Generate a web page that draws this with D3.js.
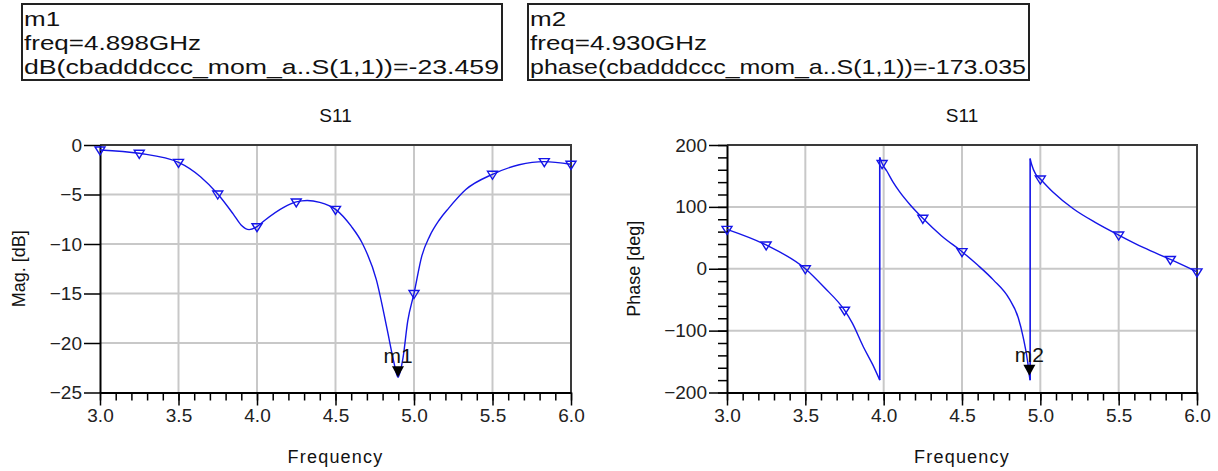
<!DOCTYPE html>
<html>
<head>
<meta charset="utf-8">
<script src="https://cdn.jsdelivr.net/npm/d3@7"></script>
<style>
  body { margin: 0; background: #fff; }
  svg { font-family: "Liberation Sans", Arial, sans-serif; }
</style>
</head>
<body>
<svg id="chart" width="1218" height="471"></svg>
<script>
// x axis ticks (GHz)
const freqTicks = [3.0, 3.5, 4.0, 4.5, 5.0, 5.5, 6.0];
const magTicks = [0, -5, -10, -15, -20, -25];
const phaseTicks = [200, 100, 0, -100, -200];

// dB(S11) trace
const magFreq = [3.0, 3.25, 3.5, 3.64, 3.75, 3.85, 3.9, 3.95, 4.0, 4.05, 4.17, 4.25, 4.32, 4.4, 4.5, 4.6, 4.67, 4.76, 4.83, 4.87, 4.898, 4.93, 4.96, 5.0, 5.05, 5.1, 5.16, 5.22, 5.33, 5.5, 5.67, 5.83, 6.0];
const magDb   = [-0.5, -0.84, -1.75, -3.2, -4.95, -7.0, -8.1, -8.55, -8.25, -7.6, -6.3, -5.75, -5.6, -5.8, -6.5, -8.2, -9.9, -13.6, -18.7, -21.8, -23.459, -21.5, -17.8, -15.0, -11.2, -9.2, -7.6, -6.4, -4.5, -2.96, -2.0, -1.68, -1.95];
const magSymFreq = [3.0, 3.25, 3.5, 3.75, 4.0, 4.25, 4.5, 5.0, 5.5, 5.83, 6.0];
const magSymDb   = [-0.5, -0.84, -1.75, -4.95, -8.25, -5.75, -6.5, -15.0, -2.96, -1.68, -1.95];

// phase(S11) trace, wraps at +/-180
const phaseFreq = [3.0, 3.25, 3.5, 3.62, 3.75, 3.8, 3.87, 3.93, 3.975, 3.975, 3.99, 4.02, 4.06, 4.1, 4.17, 4.25, 4.37, 4.5, 4.6, 4.7, 4.8, 4.86, 4.89, 4.92, 4.93, 4.935, 4.935, 4.945, 4.97, 5.0, 5.08, 5.21, 5.35, 5.5, 5.66, 5.83, 6.0];
const phaseDeg  = [63.7, 38.4, 0, -30, -67, -88, -126, -155, -180, 180, 170, 158, 140, 125, 103, 81.5, 53, 27.6, 6, -18, -48, -80, -110, -152, -173, -180, 178, 168, 153, 145, 124, 97, 75, 54.5, 34, 15, -5];
const phaseSymFreq = [3.0, 3.25, 3.5, 3.75, 3.99, 4.25, 4.5, 5.0, 5.5, 5.83, 6.0];
const phaseSymDeg  = [63.7, 38.4, 0, -67, 170, 81.5, 27.6, 145, 54.5, 15, -5];

// marker readouts
const markers = [
  { name: "m1", freq: 4.898, value: -23.459, label: "dB(cbadddccc_mom_a..S(1,1))=-23.459" },
  { name: "m2", freq: 4.930, value: -173.035, label: "phase(cbadddccc_mom_a..S(1,1))=-173.035" }
];

const svg = d3.select("#chart");
const traceColor = "#1515e8";
const gridColor = "#c8c8c8";
const plotTop = 145, plotBottom = 392.5;

function drawPlot(opt) {
  const x = d3.scaleLinear().domain([3, 6]).range([opt.left, opt.right]);
  const y = d3.scaleLinear().domain(opt.yDomain).range([plotBottom, plotTop]);
  const g = svg.append("g");

  // grid
  g.selectAll(".gx").data(freqTicks.slice(1, -1)).join("line")
    .attr("x1", d => x(d)).attr("x2", d => x(d))
    .attr("y1", plotTop).attr("y2", plotBottom)
    .attr("stroke", gridColor).attr("stroke-width", 2);
  g.selectAll(".gy").data(opt.yTicks.slice(1, -1)).join("line")
    .attr("x1", opt.left).attr("x2", opt.right)
    .attr("y1", d => y(d)).attr("y2", d => y(d))
    .attr("stroke", gridColor).attr("stroke-width", 2);

  // top / right frame
  g.append("path")
    .attr("d", `M${opt.left},${plotTop}H${opt.right}V${plotBottom}`)
    .attr("fill", "none").attr("stroke", "#3a3a3a").attr("stroke-width", 2);

  // x axis: minor then major
  const minor = d3.range(30, 61).map(d => d / 10);
  g.append("g").attr("transform", `translate(0,${plotBottom})`)
    .call(d3.axisBottom(x).tickValues(minor).tickSize(8).tickFormat(""))
    .call(a => a.select(".domain").remove())
    .selectAll("line").attr("stroke", "#000").attr("stroke-width", 1.5);
  const xa = g.append("g").attr("transform", `translate(0,${plotBottom})`)
    .call(d3.axisBottom(x).tickValues(freqTicks).tickSize(13).tickSizeOuter(0).tickPadding(3).tickFormat(d3.format(".1f")));
  xa.select(".domain").attr("stroke", "#000").attr("stroke-width", 2);
  xa.selectAll("line").attr("stroke", "#000").attr("stroke-width", 1.5);
  xa.selectAll("text").attr("font-size", 19).attr("font-family", "Liberation Sans, Arial").attr("fill", "#222");

  // y axis
  if (opt.yMinor) {
    g.append("g").attr("transform", `translate(${opt.left},0)`)
      .call(d3.axisLeft(y).tickValues(opt.yMinor).tickSize(9).tickFormat(""))
      .call(a => a.select(".domain").remove())
      .selectAll("line").attr("stroke", "#000").attr("stroke-width", 1.5);
  }
  const ya = g.append("g").attr("transform", `translate(${opt.left},0)`)
    .call(d3.axisLeft(y).tickValues(opt.yTicks).tickSize(opt.yTickLen).tickSizeOuter(0).tickPadding(2));
  ya.select(".domain").attr("stroke", "#000").attr("stroke-width", 2);
  ya.selectAll("line").attr("stroke", "#000").attr("stroke-width", 1.5);
  ya.selectAll("text").attr("font-size", 19).attr("font-family", "Liberation Sans, Arial").attr("fill", "#222");

  // trace, split into segments at phase wraps
  const pts = opt.xs.map((f, i) => [f, opt.ys[i]]);
  const segs = [[pts[0]]];
  for (let i = 1; i < pts.length; i++) {
    if (Math.abs(pts[i][1] - pts[i - 1][1]) > 180) segs.push([]);
    segs[segs.length - 1].push(pts[i]);
  }
  const smooth = d3.line().x(d => x(d[0])).y(d => y(d[1])).curve(d3.curveMonotoneX);
  const straight = d3.line().x(d => x(d[0])).y(d => y(d[1]));
  segs.forEach((s, i) => {
    g.append("path").attr("d", smooth(s))
      .attr("fill", "none").attr("stroke", traceColor).attr("stroke-width", 1.4);
    if (i > 0) {
      const prev = segs[i - 1];
      g.append("path").attr("d", straight([prev[prev.length - 1], s[0]]))
        .attr("fill", "none").attr("stroke", traceColor).attr("stroke-width", 1.6);
    }
  });

  // trace symbols (hollow down triangles)
  g.selectAll(".sym").data(opt.symX.map((f, i) => [f, opt.symY[i]])).join("path")
    .attr("d", d => {
      const cx = x(d[0]), cy = y(d[1]);
      return `M${cx - 5},${cy - 3}H${cx + 5}L${cx},${cy + 5}Z`;
    })
    .attr("fill", "none").attr("stroke", traceColor).attr("stroke-width", 1.4);

  // marker
  const m = opt.marker;
  const mx = x(m.freq), my = y(m.value);
  g.append("path").attr("d", `M${mx - 6},${my - 11}H${mx + 6}L${mx},${my}Z`).attr("fill", "#000");
  g.append("text").attr("x", mx).attr("y", my - 14).attr("text-anchor", "middle")
    .attr("font-size", 21).attr("fill", "#111").text(m.name);

  // titles
  svg.append("text").attr("x", (opt.left + opt.right) / 2).attr("y", 122)
    .attr("text-anchor", "middle").attr("font-size", 19).attr("fill", "#111").text("S11");
  svg.append("text").attr("x", (opt.left + opt.right) / 2).attr("y", 463)
    .attr("text-anchor", "middle").attr("font-size", 18).attr("letter-spacing", 1.2)
    .attr("fill", "#111").text("Frequency");
  svg.append("text").attr("transform", `translate(${opt.yLabelX},${(plotTop + plotBottom) / 2}) rotate(-90)`)
    .attr("text-anchor", "middle").attr("font-size", 18).attr("fill", "#111").text(opt.yLabel);
}

drawPlot({
  left: 100, right: 571, yDomain: [-25, 0], yTicks: magTicks, yTickLen: 16,
  xs: magFreq, ys: magDb, symX: magSymFreq, symY: magSymDb,
  marker: markers[0], yLabel: "Mag. [dB]", yLabelX: 25
});
drawPlot({
  left: 727, right: 1197, yDomain: [-200, 200], yTicks: phaseTicks, yTickLen: 18,
  yMinor: d3.range(-200, 201, 20),
  xs: phaseFreq, ys: phaseDeg, symX: phaseSymFreq, symY: phaseSymDeg,
  marker: markers[1], yLabel: "Phase [deg]", yLabelX: 640
});

// marker readout boxes
const boxX = [22, 528];
const boxW = [480, 501];
const textScale = 1.3;
markers.forEach((m, i) => {
  const box = svg.append("g");
  box.append("rect").attr("x", boxX[i]).attr("y", 4)
    .attr("width", boxW[i]).attr("height", 76)
    .attr("fill", "#fff").attr("stroke", "#222").attr("stroke-width", 2);
  const tg = box.append("g").attr("transform", `translate(${boxX[i] + 2},0) scale(${textScale},1)`);
  const lines = [m.name, `freq=${m.freq.toFixed(3)}GHz`, m.label];
  lines.forEach((t, j) => {
    const txt = tg.append("text").attr("x", 0).attr("y", 26 + j * 24)
      .attr("font-size", 20).attr("fill", "#111").text(t);
    if (j === 2) {
      txt.attr("textLength", (boxW[i] - 5) / textScale).attr("lengthAdjust", "spacingAndGlyphs");
    }
  });
});
</script>
</body>
</html>
